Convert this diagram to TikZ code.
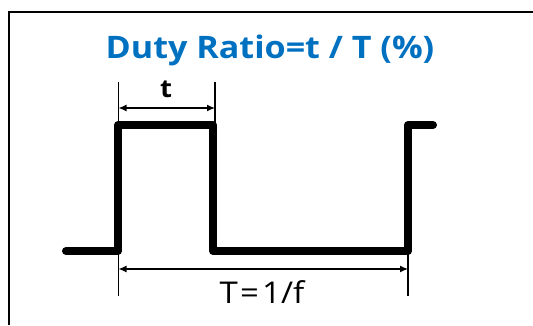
\documentclass[tikz,border=0pt]{standalone}
\usepackage{fontspec}
\setmainfont{Open Sans}
\usetikzlibrary{arrows.meta}
\definecolor{titleblue}{RGB}{0,112,192}

\begin{document}
\begin{tikzpicture}[x=1pt, y=-1pt, every node/.style={inner sep=0pt, xscale=1.1, transform shape}, wave/.style={line width=8pt, line cap=round, line join=round}, extline/.style={line width=1.5pt}, dimarrow/.style={{Latex[length=8pt,width=7pt]}-{Latex[length=8pt,width=7pt]}, line width=1.3pt}]
\useasboundingbox (0,0) rectangle (533,325);
% frame
\coordinate (fr1) at (533,12); \coordinate (fr2) at (9,12); \coordinate (fr3) at (9,325);
\draw[line width=2pt] (fr1) -- (fr2) -- (fr3);
% title
\node[anchor=base, text=titleblue, font=\fontsize{31}{36}\selectfont\bfseries] (title) at (270,58) {Duty Ratio=t / T (\%)};
% waveform
\coordinate (w0) at (66,251); \coordinate (w1) at (118,251); \coordinate (w2) at (118,125); \coordinate (w3) at (213,125);
\coordinate (w4) at (213,251); \coordinate (w5) at (408,251); \coordinate (w6) at (408,125); \coordinate (w7) at (433,125);
\draw[wave] (w0) -- (w1) -- (w2) -- (w3) -- (w4) -- (w5) -- (w6) -- (w7);
% pulse width
\coordinate (ta) at (118.5,82); \coordinate (tb) at (118.5,122); \coordinate (tc) at (215,82); \coordinate (td) at (215,122);
\draw[extline] (ta) -- (tb); \draw[extline] (tc) -- (td);
\coordinate (tl) at (118.5,108); \coordinate (tr) at (215,108);
\draw[dimarrow] (tl) -- (tr);
\node[anchor=base, font=\fontsize{25}{30}\selectfont\bfseries] (tlabel) at (166,97) {t};
% period
\coordinate (pa) at (118.5,254); \coordinate (pb) at (118.5,296); \coordinate (pc) at (408,254); \coordinate (pd) at (408,296);
\draw[extline] (pa) -- (pb); \draw[extline] (pc) -- (pd);
\coordinate (pl) at (118.5,269); \coordinate (pr) at (408,269);
\draw[dimarrow] (pl) -- (pr);
\node[anchor=base, font=\fontsize{30}{35}\selectfont] (plabel) at (262,303) {T\kern2pt=\kern3pt1/f};
\end{tikzpicture}
\end{document}
